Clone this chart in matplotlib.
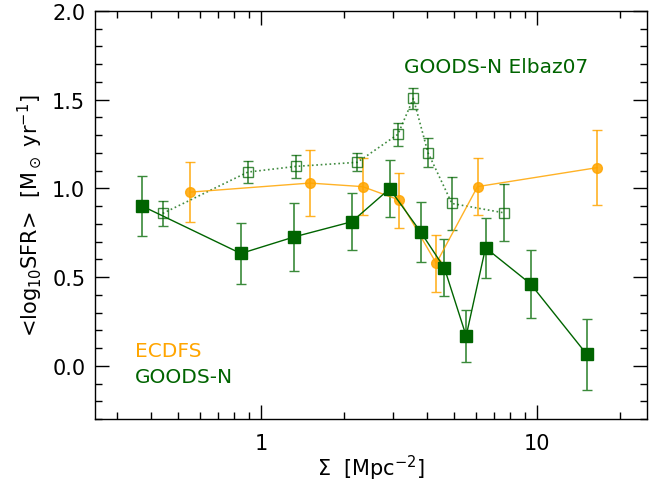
import numpy as np
import matplotlib
matplotlib.use("Agg")
import matplotlib.pyplot as plt
from matplotlib.ticker import LogLocator, MultipleLocator, FixedLocator, NullFormatter

# GOODS-N (filled squares)
gn_x = [0.371, 0.844, 1.32, 2.13, 2.92, 3.78, 4.61, 5.53, 6.50, 9.46, 15.1]
gn_y = [0.90, 0.633, 0.727, 0.812, 0.998, 0.755, 0.552, 0.168, 0.665, 0.462, 0.066]
gn_err = [0.17, 0.17, 0.19, 0.16, 0.16, 0.17, 0.16, 0.145, 0.17, 0.19, 0.20]

# ECDFS (orange circles)
ec_x = [0.553, 1.50, 2.33, 3.17, 4.31, 6.08, 16.5]
ec_y = [0.979, 1.03, 1.01, 0.934, 0.578, 1.01, 1.117]
ec_err = [0.17, 0.185, 0.16, 0.155, 0.16, 0.16, 0.21]

# GOODS-N Elbaz07 (open squares, dotted)
el_x = [0.440, 0.895, 1.335, 2.23, 3.13, 3.56, 4.02, 4.91, 7.59]
el_y = [0.859, 1.092, 1.124, 1.147, 1.305, 1.507, 1.202, 0.915, 0.862]
el_err = [0.07, 0.06, 0.063, 0.05, 0.065, 0.06, 0.08, 0.15, 0.16]

green = "#006400"
orange = "#FFA500"

plt.rcParams['font.family'] = ['DejaVu Sans']
fig = plt.figure(figsize=(6.59, 4.85), dpi=100)
ax = fig.add_axes([95/659, 1-420/485, (647-95)/659, (420-12)/485])

ax.errorbar(el_x, el_y, yerr=el_err, color=green, ls=":", lw=1.2, marker="s", ms=7,
            mfc="none", mec=green, mew=1.0, ecolor=green, elinewidth=1.2, capsize=3.5,
            alpha=0.75)
ax.errorbar(ec_x, ec_y, yerr=ec_err, color=orange, ls="-", lw=1.0, marker="o", ms=7,
            mfc=orange, mec=orange, ecolor=orange, elinewidth=1.2, capsize=3.5,
            alpha=0.85)
ax.errorbar(gn_x, gn_y, yerr=gn_err, color=green, ls="-", lw=1.0, marker="s", ms=8,
            mfc=green, mec=green, ecolor="#3a8a3a", elinewidth=1.2, capsize=3.5)

ax.set_xscale("log")
ax.set_xlim(0.25, 25)
ax.set_ylim(-0.3, 2.0)
ax.xaxis.set_major_locator(FixedLocator([1, 10]))
ax.xaxis.set_major_formatter(plt.FuncFormatter(lambda v, p: "%d" % v))
ax.xaxis.set_minor_locator(LogLocator(base=10, subs=np.arange(2, 10)))
ax.xaxis.set_minor_formatter(NullFormatter())
ax.yaxis.set_major_locator(MultipleLocator(0.5))
ax.yaxis.set_major_formatter(plt.FuncFormatter(lambda v, p: "%.1f" % v))
ax.yaxis.set_minor_locator(MultipleLocator(0.1))
ax.tick_params(which="both", direction="in", top=True, right=True, labelsize=15,
               width=1.0)
ax.tick_params(axis="x", pad=10)
ax.tick_params(axis="y", pad=7)
ax.tick_params(which="major", length=10)
ax.tick_params(which="minor", length=5)
for s in ax.spines.values():
    s.set_linewidth(1.0)

ax.set_xlabel(r"$\Sigma$  [Mpc$^{-2}$]", fontsize=15, labelpad=0)
ax.set_ylabel(r"<log$_{10}$SFR>  [M$_\odot$ yr$^{-1}$]", fontsize=15, labelpad=6)

ax.text(0.56, 0.865, "GOODS-N Elbaz07", transform=ax.transAxes, color=green,
        fontsize=14.5, ha="left", va="center")
ax.text(0.072, 0.168, "ECDFS", transform=ax.transAxes, color=orange,
        fontsize=14.5, ha="left", va="center")
ax.text(0.072, 0.105, "GOODS-N", transform=ax.transAxes, color=green,
        fontsize=14.5, ha="left", va="center")

fig.savefig("out.png", dpi=100)
